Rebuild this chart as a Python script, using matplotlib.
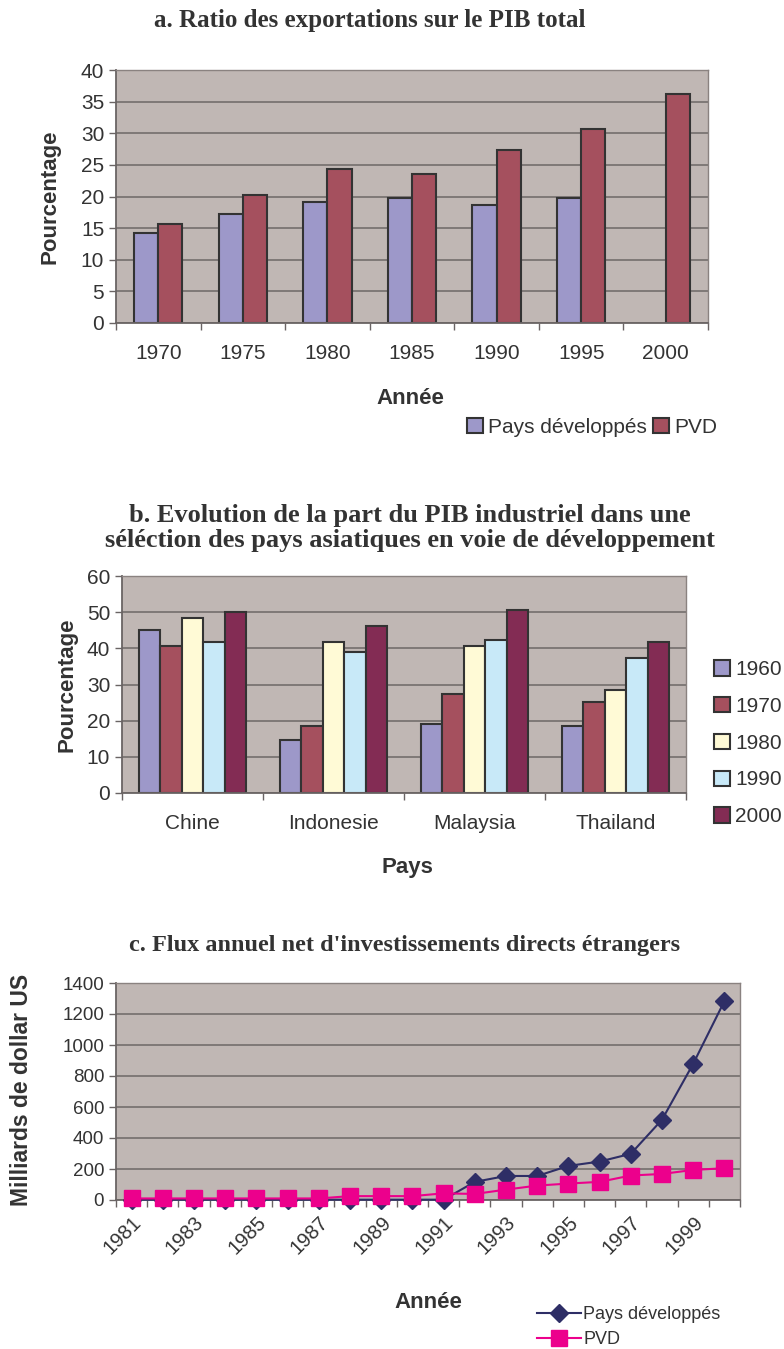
import numpy as np
import matplotlib
matplotlib.use('Agg')
import matplotlib.pyplot as plt
from matplotlib.patches import Patch

plt.rcParams['font.family'] = ['Liberation Sans', 'DejaVu Sans']

# ---- data ----
years_a = ['1970', '1975', '1980', '1985', '1990', '1995', '2000']
dev_a = [14.2, 17.3, 19.2, 19.8, 18.6, 19.8, np.nan]
pvd_a = [15.7, 20.2, 24.3, 23.6, 27.4, 30.6, 36.2]

pays_b = ['Chine', 'Indonesie', 'Malaysia', 'Thailand']
decades_b = ['1960', '1970', '1980', '1990', '2000']
y1960 = [45.0, 14.7, 19.1, 18.6]
y1970 = [40.6, 18.6, 27.4, 25.2]
y1980 = [48.3, 41.7, 40.6, 28.5]
y1990 = [41.7, 39.0, 42.3, 37.3]
y2000 = [50.0, 46.1, 50.6, 41.7]

years_c = list(range(1981, 2001))
dev_c = [2, 2, 2, 2, 2, 2, 2, 2, 2, 2, 2, 117, 155, 155, 220, 248, 298, 518, 879, 1283]
pvd_c = [10, 10, 10, 10, 10, 10, 10, 25, 25, 25, 43, 39, 67, 93, 106, 117, 158, 168, 194, 205]

# ---- styles ----
BG = '#c0b7b4'
GRID = '#7a7472'
EDGE = '#333333'
TXT = '#333333'
COLS = ['#9d98c9', '#a5505e', '#fffad6', '#c8e9f8', '#832c54']

W, H = 784, 1349
fig = plt.figure(figsize=(W / 100, H / 100), dpi=100)


def rect(l, t, r, b):
    return [l / W, 1 - b / H, (r - l) / W, (b - t) / H]


def ftext(x, y, s, **kw):
    fig.text(x / W, 1 - y / H, s, ha='center', va='center', color=TXT, **kw)


def style(ax, fs):
    ax.set_facecolor(BG)
    ax.set_axisbelow(True)
    ax.yaxis.grid(True, color=GRID, lw=1.3)
    for s in ['left', 'bottom']:
        ax.spines[s].set_color('#6a6464')
        ax.spines[s].set_linewidth(1.3)
    for s in ['top', 'right']:
        ax.spines[s].set_color('#8a8280')
        ax.spines[s].set_linewidth(1.0)
    ax.tick_params(axis='both', colors='#6a6464', labelcolor=TXT, labelsize=fs,
                   length=5, width=1.0)
    ax.tick_params(axis='x', which='major', length=0, pad=15)
    ax.tick_params(axis='x', which='minor', length=5, width=1.0, colors='#6a6464')


title_kw = dict(family='Liberation Serif', weight='bold')
lab_kw = dict(weight='bold', fontsize=16)

# ---- panel a ----
ax = fig.add_axes(rect(116, 70, 708, 323))
style(ax, 15)
x = np.arange(len(years_a))
bw = 0.285
ax.bar(x - bw / 2, dev_a, bw, color=COLS[0], edgecolor=EDGE, lw=1.5)
ax.bar(x + bw / 2, pvd_a, bw, color=COLS[1], edgecolor=EDGE, lw=1.5)
ax.set_xlim(-0.5, len(years_a) - 0.5)
ax.set_ylim(0, 40)
ax.set_yticks(range(0, 41, 5))
ax.set_xticks(x)
ax.set_xticklabels(years_a)
ax.set_xticks(np.arange(-0.5, len(years_a), 1), minor=True)
ftext(370, 20, 'a. Ratio des exportations sur le PIB total', fontsize=18, **title_kw)
ftext(50, 197, 'Pourcentage', rotation=90, **lab_kw)
ftext(410, 398, 'Année', **lab_kw)
fig.legend([Patch(fc=COLS[0], ec=EDGE, lw=1.5), Patch(fc=COLS[1], ec=EDGE, lw=1.5)],
           ['Pays développés', 'PVD'], loc='center', bbox_to_anchor=(592 / W, 1 - 427 / H),
           ncol=2, frameon=False, fontsize=15, handlelength=0.75, handleheight=0.75,
           columnspacing=0.3, handletextpad=0.25, labelcolor=TXT)

# ---- panel b ----
ax = fig.add_axes(rect(122, 576, 686, 793))
style(ax, 15)
x = np.arange(len(pays_b))
bw = 0.152
series_b = [y1960, y1970, y1980, y1990, y2000]
for i, vals in enumerate(series_b):
    ax.bar(x + (i - 2) * bw, vals, bw, color=COLS[i], edgecolor=EDGE, lw=1.5,
           label=decades_b[i])
ax.set_xlim(-0.5, len(pays_b) - 0.5)
ax.set_ylim(0, 60)
ax.set_yticks(range(0, 61, 10))
ax.set_xticks(x)
ax.set_xticklabels(pays_b)
ax.set_xticks(np.arange(-0.5, len(pays_b), 1), minor=True)
ftext(410, 515, 'b. Evolution de la part du PIB industriel dans une', fontsize=19, **title_kw)
ftext(410, 541, 'séléction des pays asiatiques en voie de développement', fontsize=19, **title_kw)
ftext(67, 685, 'Pourcentage', rotation=90, **lab_kw)
ftext(407, 868, 'Pays', **lab_kw)
ax.legend(loc='upper left', bbox_to_anchor=(706 / W, 1 - 652 / H),
          bbox_transform=fig.transFigure, frameon=False, fontsize=15,
          handlelength=0.75, handleheight=0.75, handletextpad=0.25,
          labelspacing=0.85, labelcolor=TXT, borderaxespad=0)

# ---- panel c ----
ax = fig.add_axes(rect(116, 983, 740, 1200))
style(ax, 13.5)
x = np.arange(len(years_c))
ax.plot(x, dev_c, '-D', color='#2e2e66', ms=9, lw=1.5, label='Pays développés', clip_on=False, zorder=3)
ax.plot(x, pvd_c, '-s', color='#ec008c', ms=11, lw=1.5, label='PVD', clip_on=False, zorder=4)
ax.set_xlim(-0.5, len(years_c) - 0.5)
ax.set_ylim(0, 1400)
ax.set_yticks(range(0, 1401, 200))
ax.set_xticks(x[::2])
ax.set_xticklabels([str(y) for y in years_c[::2]], rotation=45, ha='right',
                   rotation_mode='anchor')
ax.tick_params(axis='x', which='major', pad=9, labelsize=14.5)
ax.set_xticks(np.arange(-0.5, len(years_c), 1), minor=True)
ftext(405, 945, "c. Flux annuel net d'investissements directs étrangers", fontsize=17.5, **title_kw)
ftext(22, 1090, 'Milliards de dollar US', rotation=90, fontsize=16.5, weight='bold')
ftext(428, 1302, 'Année', **lab_kw)
ax.legend(loc='upper left', bbox_to_anchor=(530 / W, 1 - 1299 / H),
          bbox_transform=fig.transFigure, frameon=False, fontsize=13,
          handlelength=2.4, handletextpad=0.15, labelspacing=0.45,
          labelcolor=TXT, borderaxespad=0)

fig.savefig('out.png', dpi=100)
